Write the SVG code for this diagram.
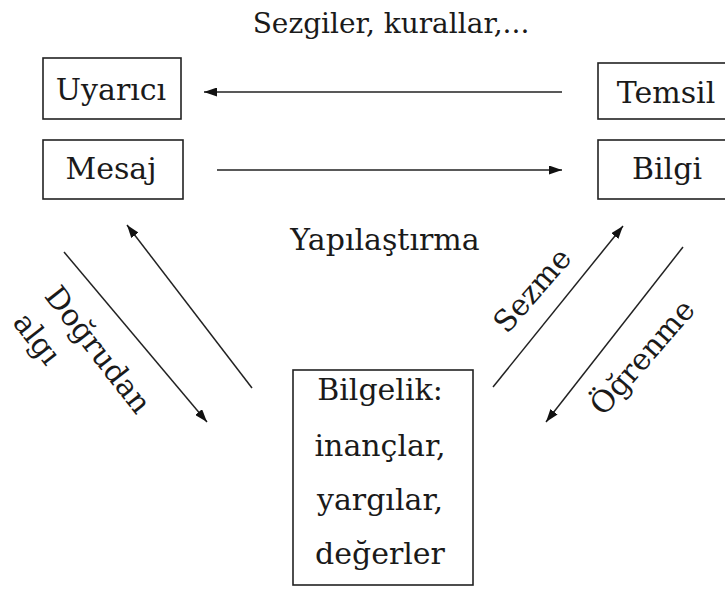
<svg xmlns="http://www.w3.org/2000/svg" width="725" height="589" viewBox="0 0 725 589">
<style>
text{font-family:"DejaVu Serif","Liberation Serif",serif;font-size:30px;fill:#1a1a1a;text-anchor:middle}
.box{fill:#fff;stroke:#222;stroke-width:1.6}
.con{stroke:#222;stroke-width:1.5;fill:none}
</style>
<defs>
<marker id="ah" viewBox="0 0 13 9" refX="13" refY="4.5" markerWidth="13" markerHeight="9" markerUnits="userSpaceOnUse" orient="auto">
<path d="M0,0 L13,4.5 L0,9 z" fill="#111"/>
</marker>
</defs>
<rect width="725" height="589" fill="#fff"/>
<text id="title" x="391" y="33" style="font-size:28px">Sezgiler, kurallar,...</text>
<g id="uyarici"><rect class="box" x="43" y="58" width="138" height="61"/><text x="111" y="100">Uyarıcı</text></g>
<g id="mesaj"><rect class="box" x="43" y="140" width="140" height="59"/><text x="111" y="179">Mesaj</text></g>
<g id="temsil"><rect class="box" x="598" y="63" width="140" height="56"/><text x="666" y="103">Temsil</text></g>
<g id="bilgi"><rect class="box" x="598" y="140" width="140" height="59"/><text x="667" y="179">Bilgi</text></g>
<g id="bilgelik"><rect class="box" x="293" y="370" width="180" height="215"/>
<text x="380" y="400">Bilgelik:</text>
<text x="380" y="456">inançlar,</text>
<text x="380" y="510">yargılar,</text>
<text x="380" y="564">değerler</text></g>
<g id="connectors">
<line class="con" x1="562" y1="92" x2="204" y2="92" marker-end="url(#ah)"/>
<line class="con" x1="217" y1="170" x2="562" y2="170" marker-end="url(#ah)"/>
<line class="con" x1="252" y1="388" x2="127" y2="225" marker-end="url(#ah)"/>
<line class="con" x1="64" y1="252" x2="207" y2="422" marker-end="url(#ah)"/>
<line class="con" x1="493" y1="387" x2="623" y2="226" marker-end="url(#ah)"/>
<line class="con" x1="683" y1="247" x2="546" y2="422" marker-end="url(#ah)"/>
</g>
<g id="labels">
<text x="385" y="250">Yapılaştırma</text>
<text transform="translate(90,356) rotate(52)">Doğrudan</text>
<text transform="translate(29,345) rotate(52)">algı</text>
<text transform="translate(540,297) rotate(-49)">Sezme</text>
<text transform="translate(650,364) rotate(-49)">Öğrenme</text>
</g>
</svg>
